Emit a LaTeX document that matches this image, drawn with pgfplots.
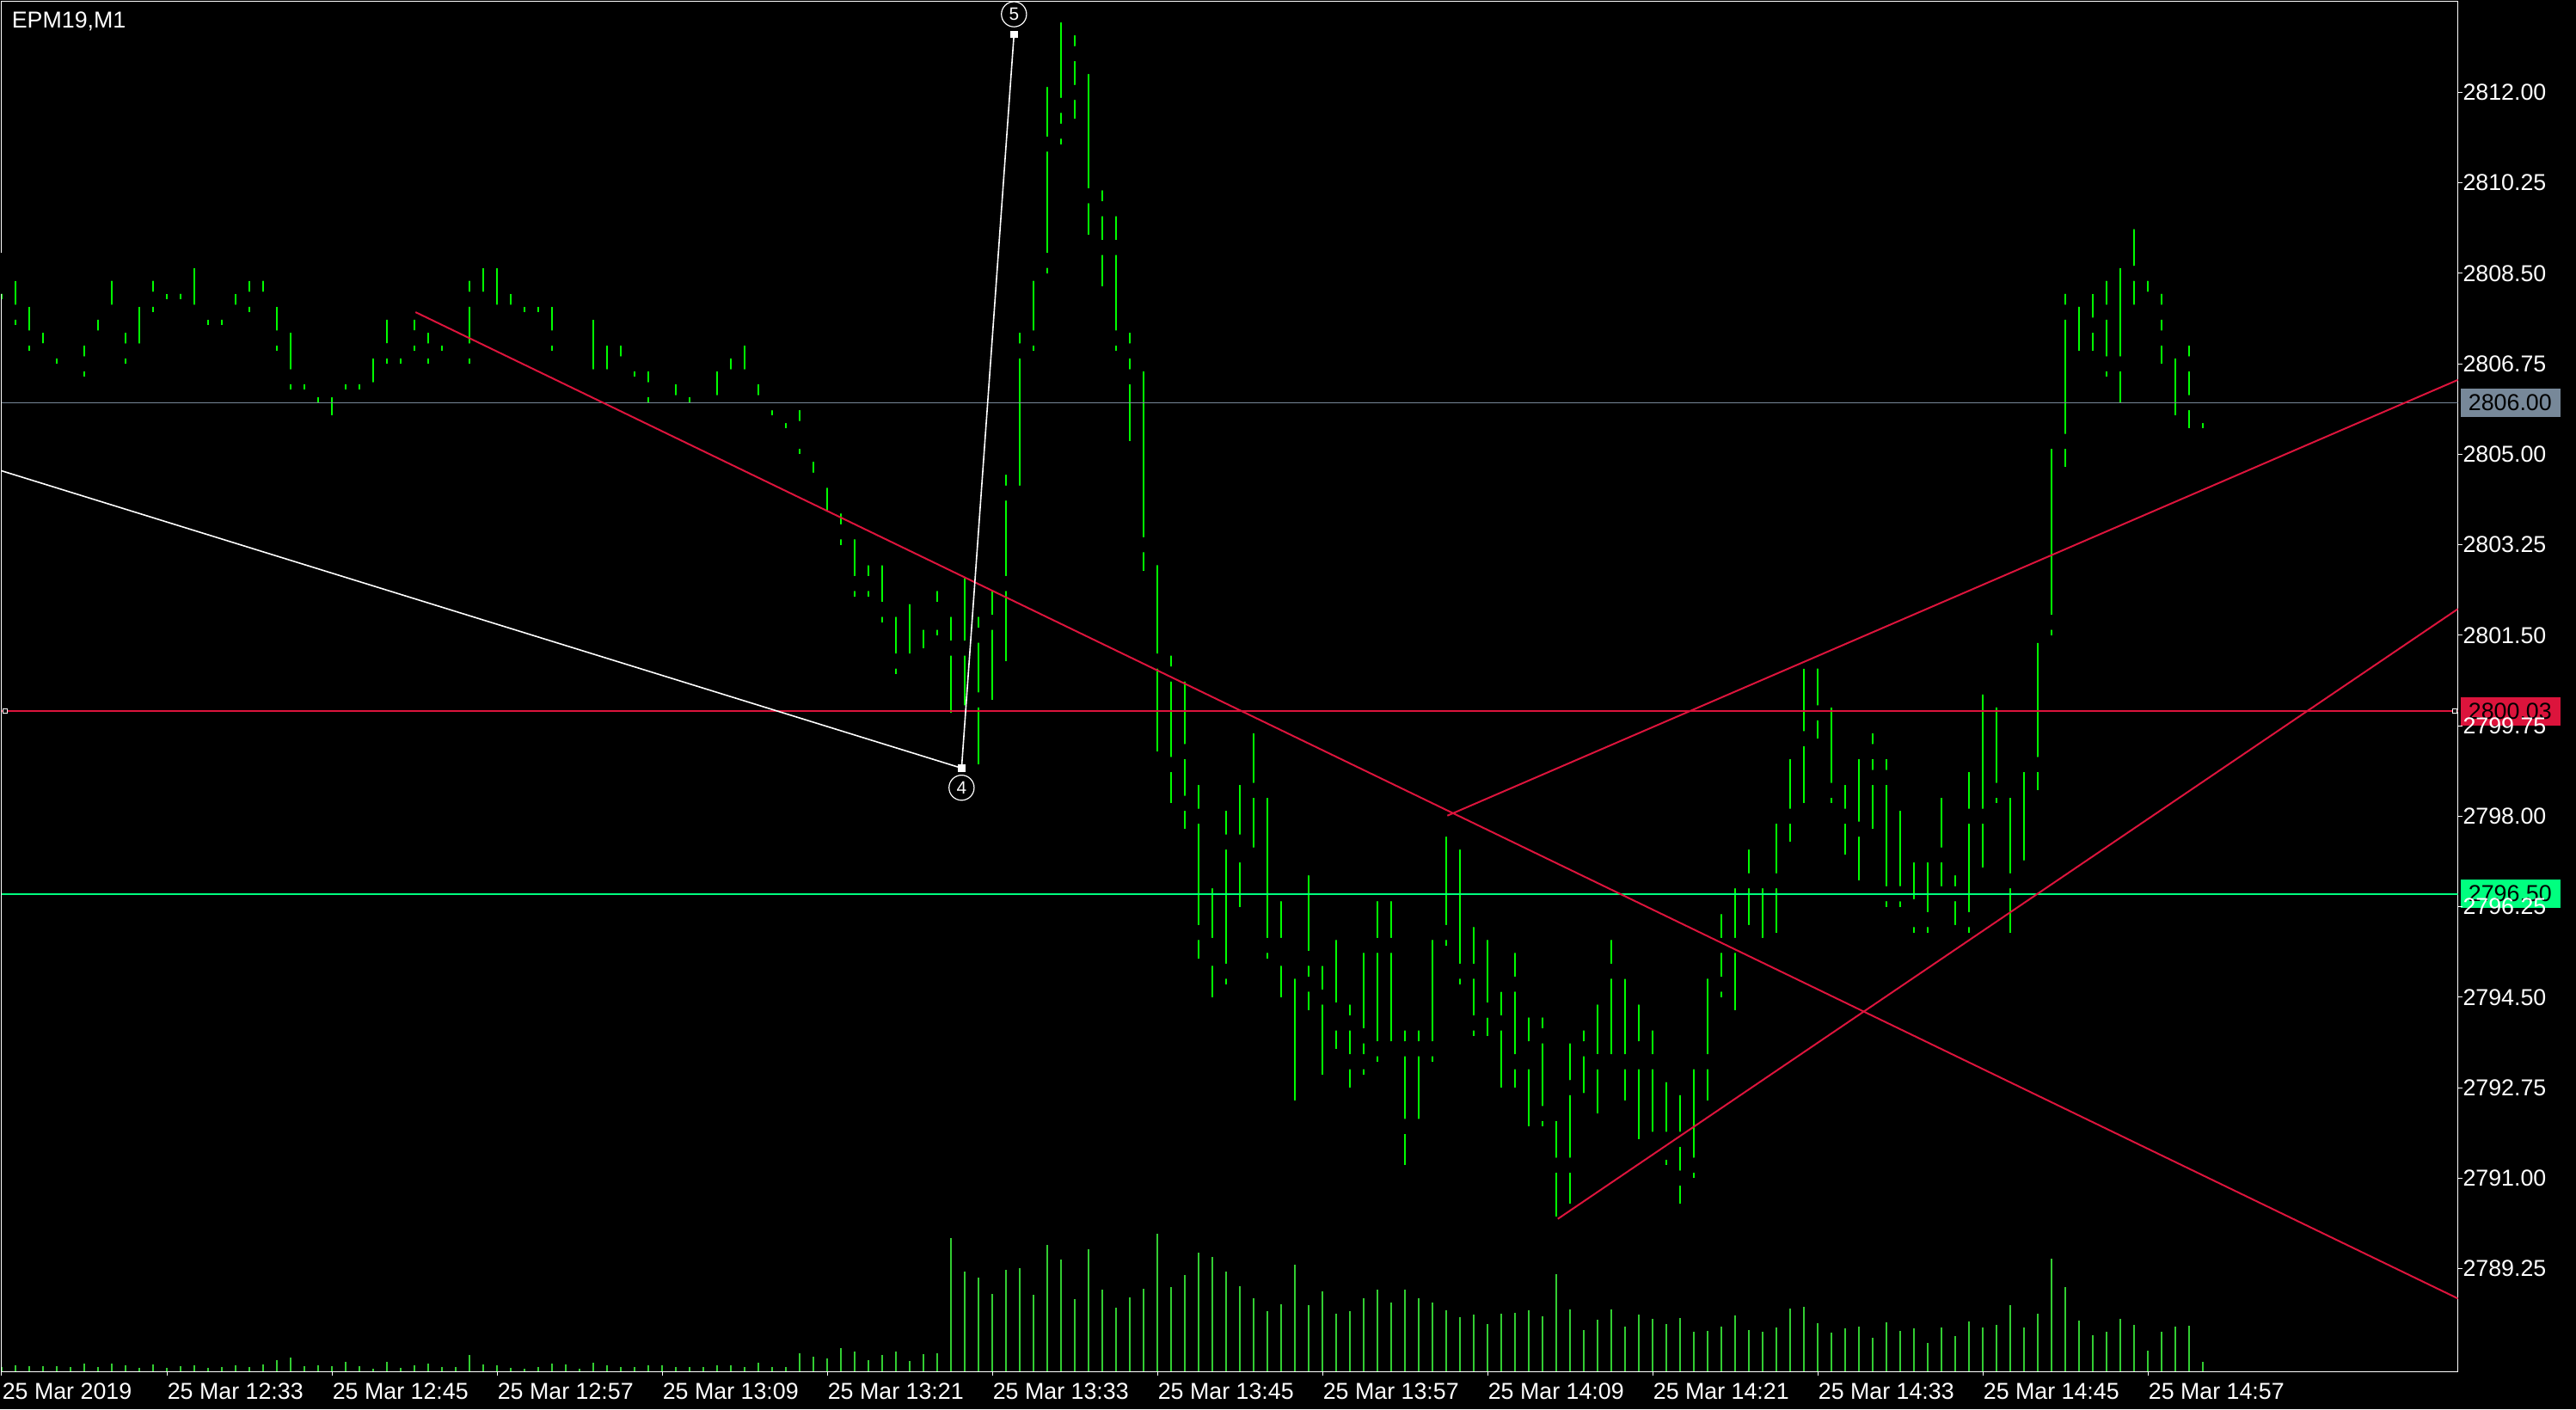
\documentclass[border=0pt]{standalone}
\usepackage{fontspec}
\setmainfont{Liberation Sans}
\usepackage{pgfplots}
\usepackage{pgfplotstable}
\pgfplotsset{compat=1.18}

\definecolor{barg}{RGB}{0,255,0}
\definecolor{volg}{RGB}{50,205,50}
\definecolor{lsgray}{RGB}{119,136,153}
\definecolor{crim}{RGB}{220,20,60}
\definecolor{sprg}{RGB}{0,255,127}
\newcommand\mtfont{\fontsize{6.7pt}{8pt}\selectfont}
\tikzset{pricebox/.style={anchor=west, text=black, font=\mtfont, inner xsep=2.25pt,
    inner ysep=0pt, text width=24.5pt, minimum height=8.25pt, xshift=0.6pt}}

% one-minute bars: index, open, high, low, close, tick volume
\pgfplotstableread{
i O H L C V
0 2808.50 2808.75 2808.00 2808.25 15
1 2808.50 2808.50 2807.50 2807.75 21
2 2808.00 2808.00 2807.00 2807.25 18
3 2807.00 2807.50 2807.00 2807.00 18
4 2807.00 2807.25 2806.75 2807.00 18
5 2807.00 2807.25 2806.75 2806.75 14
6 2806.75 2807.50 2806.50 2807.25 27
7 2807.25 2808.00 2807.25 2807.75 15
8 2807.50 2808.50 2807.50 2807.75 27
9 2807.50 2807.75 2806.75 2807.00 21
10 2807.00 2808.00 2807.00 2808.00 11
11 2808.00 2808.75 2807.75 2808.50 24
12 2808.25 2808.25 2808.00 2808.25 12
13 2808.25 2808.50 2808.00 2808.50 18
14 2808.75 2808.75 2807.75 2807.75 21
15 2807.75 2807.75 2807.50 2807.75 12
16 2807.75 2808.25 2807.50 2808.00 15
17 2807.75 2808.25 2807.75 2808.25 21
18 2808.00 2808.50 2807.75 2808.50 15
19 2808.50 2808.75 2808.00 2808.00 24
20 2808.00 2808.00 2807.00 2807.25 39
21 2807.50 2807.50 2806.25 2806.50 48
22 2806.50 2806.75 2806.25 2806.50 18
23 2806.50 2806.75 2806.00 2806.25 21
24 2806.25 2806.50 2805.75 2806.25 18
25 2806.50 2806.75 2806.25 2806.50 33
26 2806.50 2806.75 2806.25 2806.50 18
27 2806.25 2807.00 2806.25 2807.00 9
28 2807.00 2807.75 2806.75 2807.00 33
29 2807.25 2807.25 2806.75 2807.00 12
30 2807.25 2807.75 2807.00 2807.25 21
31 2807.00 2807.50 2806.75 2807.50 27
32 2807.50 2807.50 2807.00 2807.25 15
33 2807.00 2807.25 2806.75 2806.75 15
34 2807.00 2808.50 2806.75 2808.00 57
35 2808.00 2808.75 2808.00 2808.75 24
36 2808.75 2808.75 2807.75 2807.75 21
37 2807.75 2808.25 2807.75 2808.25 12
38 2808.00 2808.00 2807.75 2808.00 9
39 2808.00 2808.00 2807.75 2808.00 15
40 2808.00 2808.00 2807.00 2807.25 27
41 2807.25 2807.50 2807.00 2807.00 24
42 2807.25 2807.50 2807.25 2807.50 9
43 2807.75 2807.75 2806.50 2806.50 30
44 2806.50 2807.25 2806.50 2807.25 21
45 2807.25 2807.50 2806.75 2806.75 15
46 2806.75 2807.00 2806.50 2806.75 15
47 2806.75 2806.75 2806.00 2806.25 21
48 2806.25 2806.75 2806.25 2806.50 21
49 2806.50 2806.75 2806.00 2806.00 15
50 2806.25 2806.50 2806.00 2806.50 15
51 2806.25 2806.25 2806.00 2806.00 15
52 2806.00 2807.00 2806.00 2806.75 21
53 2806.50 2807.25 2806.50 2807.00 21
54 2807.25 2807.25 2806.50 2806.50 15
55 2806.50 2806.75 2806.00 2806.00 30
56 2806.00 2806.00 2805.75 2806.00 15
57 2806.00 2806.00 2805.50 2805.75 15
58 2805.50 2806.00 2805.00 2805.25 63
59 2805.00 2805.25 2804.50 2804.50 51
60 2804.50 2804.50 2803.75 2803.75 45
61 2804.00 2804.25 2803.25 2803.50 81
62 2803.50 2803.75 2802.25 2802.50 69
63 2802.50 2803.00 2802.25 2803.00 39
64 2803.00 2803.00 2801.75 2802.00 57
65 2802.00 2802.25 2800.75 2801.00 69
66 2801.00 2802.25 2801.00 2802.25 36
67 2802.00 2802.00 2801.25 2801.75 60
68 2801.75 2802.50 2801.50 2802.00 63
69 2802.00 2802.25 2800.00 2801.25 465
70 2801.25 2802.75 2800.00 2800.00 348
71 2800.25 2802.00 2799.00 2801.50 327
72 2801.75 2802.75 2800.25 2802.50 270
73 2802.50 2804.75 2801.00 2804.25 354
74 2804.25 2807.50 2804.25 2807.00 360
75 2807.25 2808.75 2807.00 2808.50 267
76 2808.75 2812.25 2808.50 2811.00 441
77 2811.25 2813.50 2811.00 2811.75 390
78 2812.00 2813.25 2811.50 2812.75 252
79 2812.50 2812.75 2809.25 2810.00 426
80 2809.75 2810.25 2808.25 2809.00 285
81 2809.00 2809.75 2807.00 2807.25 222
82 2807.00 2807.50 2805.25 2806.50 258
83 2806.75 2806.75 2802.75 2803.25 288
84 2803.00 2803.25 2799.25 2801.00 480
85 2800.75 2801.25 2798.25 2799.00 294
86 2799.25 2800.75 2797.75 2798.25 336
87 2798.00 2798.75 2795.25 2795.75 414
88 2795.50 2796.75 2794.50 2795.25 399
89 2795.00 2798.25 2794.75 2797.50 348
90 2797.50 2798.75 2796.25 2797.25 297
91 2797.25 2799.75 2797.25 2798.50 255
92 2798.50 2798.50 2795.25 2795.50 210
93 2795.50 2796.50 2794.50 2795.25 234
94 2795.25 2795.50 2792.50 2795.00 372
95 2794.75 2797.00 2794.25 2795.25 231
96 2795.25 2795.25 2793.00 2794.50 279
97 2794.25 2795.75 2793.50 2794.00 201
98 2794.00 2794.50 2792.75 2793.25 210
99 2793.25 2795.50 2793.00 2793.75 255
100 2793.50 2796.50 2793.25 2795.50 285
101 2795.50 2796.50 2793.50 2793.50 240
102 2793.50 2794.00 2791.25 2792.00 285
103 2792.00 2794.00 2792.00 2793.50 255
104 2793.50 2796.00 2793.25 2795.75 240
105 2795.75 2798.00 2795.50 2797.75 213
106 2797.50 2797.75 2794.75 2795.00 189
107 2795.00 2796.00 2793.75 2794.00 198
108 2794.25 2795.75 2793.75 2794.25 165
109 2794.00 2794.75 2792.75 2794.75 201
110 2794.75 2795.50 2792.75 2793.25 204
111 2793.25 2794.25 2792.00 2793.50 213
112 2793.75 2794.25 2792.00 2792.25 192
113 2792.25 2792.50 2790.25 2791.25 339
114 2791.25 2793.75 2790.50 2792.75 216
115 2792.50 2794.00 2792.50 2793.50 144
116 2793.25 2794.50 2792.25 2793.25 180
117 2793.25 2795.75 2793.25 2795.00 216
118 2795.00 2795.00 2792.50 2793.25 156
119 2793.25 2794.50 2791.75 2793.50 198
120 2793.25 2794.00 2791.75 2791.75 183
121 2791.75 2793.00 2791.25 2791.50 165
122 2791.75 2792.75 2790.50 2791.00 186
123 2791.25 2793.50 2791.00 2793.25 138
124 2793.25 2795.25 2792.50 2795.00 141
125 2794.75 2796.25 2794.50 2795.50 156
126 2795.50 2797.00 2794.25 2796.75 195
127 2796.75 2797.50 2795.75 2795.75 144
128 2795.50 2797.00 2795.50 2796.75 138
129 2796.75 2798.25 2795.75 2798.00 153
130 2798.00 2799.50 2797.50 2799.25 219
131 2799.50 2801.00 2798.25 2801.00 225
132 2801.00 2801.25 2799.50 2800.00 168
133 2800.25 2800.25 2798.25 2798.50 135
134 2798.75 2798.75 2797.25 2798.00 150
135 2797.75 2799.25 2796.75 2799.25 156
136 2799.25 2799.75 2797.75 2798.75 117
137 2798.75 2799.25 2796.25 2796.50 171
138 2796.50 2798.25 2796.25 2796.50 141
139 2796.25 2797.25 2795.75 2796.00 150
140 2796.00 2797.50 2795.75 2797.25 99
141 2797.25 2798.50 2796.50 2796.50 153
142 2796.50 2797.00 2795.75 2795.75 123
143 2796.00 2799.00 2795.75 2798.00 174
144 2798.00 2800.75 2797.00 2800.50 153
145 2800.25 2800.50 2798.25 2798.50 162
146 2798.50 2798.75 2795.75 2796.75 231
147 2797.00 2799.25 2797.00 2799.00 153
148 2799.00 2801.50 2798.50 2801.50 201
149 2801.75 2805.50 2801.50 2805.25 393
150 2805.25 2808.25 2804.75 2807.75 294
151 2808.00 2808.50 2807.00 2808.25 177
152 2808.25 2808.25 2807.00 2807.50 126
153 2807.75 2808.50 2806.50 2806.75 138
154 2806.75 2808.75 2806.00 2808.75 183
155 2808.50 2809.50 2807.75 2807.75 162
156 2808.00 2808.50 2807.75 2807.75 72
157 2807.75 2808.25 2806.75 2807.25 138
158 2807.00 2807.25 2805.75 2807.00 156
159 2806.75 2807.25 2805.50 2806.00 159
160 2805.75 2806.25 2805.50 2806.00 33
}\bars

\begin{document}
\begin{tikzpicture}
\fill[black] (-0.5pt,-11pt) rectangle (748.5pt,398.75pt);

% volume pane, same frame as the price axis; the scale boxes sit here so
% that the price labels are drawn over them
\begin{axis}[
    scale only axis, width=714.17pt, height=398.25pt,
    xmin=0, xmax=178.54, ymin=0, ymax=4779,
    hide axis, clip=false
]
    \addplot[ycomb, draw=volg, line width=0.35pt, mark=none] table[x=i, y=V] {\bars};
    % rel. heights of 2806.00, 2800.03, 2796.50 on the price scale
    \node[pricebox, fill=lsgray] at (rel axis cs:1,0.707281) {2806.00};
    \node[pricebox, fill=crim] at (rel axis cs:1,0.481939) {2800.03};
    \node[pricebox, fill=sprg] at (rel axis cs:1,0.348696) {2796.50};
\end{axis}

\begin{axis}[
    scale only axis, width=714.17pt, height=398.25pt,
    xmin=0, xmax=178.54, ymin=2787.262, ymax=2813.755,
    clip mode=individual,
    scaled ticks=false,
    axis line style={white, line width=0.25pt},
    tick align=outside, major tick length=1.25pt,
    tick style={white, line width=0.25pt},
    xtick pos=left, ytick pos=right, yticklabel pos=right,
    xtick={0,12,24,36,48,60,72,84,96,108,120,132,144,156},
    xticklabels={25 Mar 2019, 25 Mar 12:33, 25 Mar 12:45, 25 Mar 12:57, 25 Mar 13:09, 25 Mar 13:21, 25 Mar 13:33, 25 Mar 13:45, 25 Mar 13:57, 25 Mar 14:09, 25 Mar 14:21, 25 Mar 14:33, 25 Mar 14:45, 25 Mar 14:57},
    ytick={2789.25,2791.00,2792.75,2794.50,2796.25,2798.00,2799.75,2801.50,2803.25,2805.00,2806.75,2808.50,2810.25,2812.00},
    yticklabels={2789.25,2791.00,2792.75,2794.50,2796.25,2798.00,2799.75,2801.50,2803.25,2805.00,2806.75,2808.50,2810.25,2812.00},
    tick label style={text=white, font=\mtfont, inner sep=0pt},
    xticklabel style={anchor=north west, yshift=-1.9pt},
    yticklabel style={anchor=west},
]
    % OHLC bars: high-low line, open tick left, close tick right
    \addplot[only marks, mark=none,
        error bars/.cd, y dir=minus, y explicit, error mark=none,
        error bar style={draw=barg, line width=0.5pt}]
        table[x=i, y=H, y error expr=\thisrow{H}-\thisrow{L}] {\bars};
    \addplot[only marks, mark=none,
        error bars/.cd, x dir=minus, x fixed=0.33, error mark=none,
        error bar style={draw=barg, line width=0.5pt}]
        table[x=i, y=O] {\bars};
    \addplot[only marks, mark=none,
        error bars/.cd, x dir=plus, x fixed=0.375, error mark=none,
        error bar style={draw=barg, line width=0.5pt}]
        table[x=i, y=C] {\bars};

    % horizontal levels
    \addplot[draw=lsgray, line width=0.25pt] coordinates {(0,2806.00) (178.54,2806.00)};
    \addplot[draw=crim, line width=0.5pt] coordinates {(0,2800.03) (178.54,2800.03)};
    \addplot[draw=sprg, line width=0.5pt] coordinates {(0,2796.50) (178.54,2796.50)};
    \addplot[only marks, mark=square*, mark size=0.6pt, draw=white, fill=black, line width=0.25pt]
        coordinates {(0.25,2800.03) (178.3,2800.03)};

    % trend lines
    \addplot[draw=crim, line width=0.5pt] coordinates {(30.08,2807.75) (178.54,2788.67)};
    \addplot[draw=crim, line width=0.5pt] coordinates {(105.08,2798.01) (178.54,2806.44)};
    \addplot[draw=crim, line width=0.5pt] coordinates {(113.11,2790.21) (178.54,2802.01)};

    % wave count
    \addplot[draw=white, line width=0.4pt] coordinates {(0,2804.68) (69.77,2798.93) (73.58,2813.12)};
    \addplot[only marks, mark=square*, mark size=0.85pt, white] coordinates {(69.77,2798.93) (73.58,2813.12)};
    \node[circle, draw=white, line width=0.3pt, minimum size=7.3pt, inner sep=0pt, text=white,
        font=\fontsize{5.2pt}{6pt}\selectfont, yshift=-5.7pt] at (axis cs:69.77,2798.93) {4};
    \node[circle, draw=white, line width=0.3pt, minimum size=7.3pt, inner sep=0pt, text=white,
        font=\fontsize{5.2pt}{6pt}\selectfont, yshift=5.9pt] at (axis cs:73.58,2813.12) {5};

    % symbol caption
    \node[anchor=base west, inner sep=0pt, text=white, font=\mtfont]
        at ([xshift=2.75pt, yshift=-7.6pt]rel axis cs:0,1) {EPM19,M1};
\end{axis}
\pgfresetboundingbox
\path (-0.5pt,-11pt) rectangle (748.5pt,398.75pt);
\end{tikzpicture}
\end{document}
